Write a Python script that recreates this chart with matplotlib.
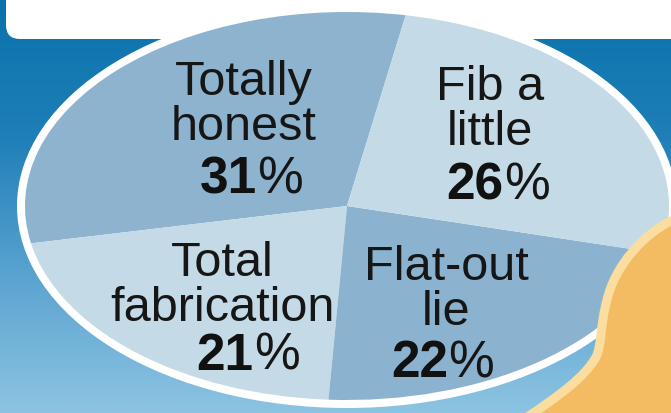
import numpy as np
import matplotlib.pyplot as plt
from matplotlib.patches import Ellipse, FancyBboxPatch, PathPatch
from matplotlib.path import Path
from matplotlib.colors import LinearSegmentedColormap

# survey answers, in pie order (counter-clockwise from the top)
answers = [["Totally", "honest"], ["Total", "fabrication"], ["Flat-out", "lie"], ["Fib a", "little"]]
shares = [31, 21, 22, 26]
slice_colors = ["#8db3cf", "#c4dae6", "#8bb2ce", "#c4dae6"]

# label placement in pixels: (centre x, first baseline), (percent centre x, baseline)
label_pos = [(244, 95), (222, 276), (446, 280), (490, 100)]
pct_pos = [(251, 193), (248, 370), (443, 377), (498, 200)]

W, H = 671, 413
plt.rcParams['font.family'] = ['Liberation Sans', 'DejaVu Sans']
fig = plt.figure(figsize=(W / 100, H / 100), dpi=100)

# background: blue gradient, white header box, white rim of the ellipse
bg = fig.add_axes([0, 0, 1, 1])
bg.set_xlim(0, W)
bg.set_ylim(H, 0)
bg.axis('off')
grad = np.linspace(0, 1, 256)[:, None]
cmap = LinearSegmentedColormap.from_list('bg', ['#0a72ab', '#1f7fb8', '#5aa3d0', '#8cc4e2'])
bg.imshow(grad, cmap=cmap, extent=[0, W, H, 0], aspect='auto')
bg.add_patch(FancyBboxPatch((6, -40), 720, 79, boxstyle='round,pad=0,rounding_size=14',
                            fc='white', ec='none'))
bg.add_patch(Ellipse((347, 206), 660, 404, fc='white', ec='none'))

# the pie itself, squashed into the ellipse
pa = fig.add_axes([25 / W, 13 / H, 644 / W, 388 / H])
pa.pie(shares, colors=slice_colors, startangle=79.5, counterclock=True,
       wedgeprops=dict(linewidth=0))
pa.set_aspect('auto')
pa.set_xlim(-1, 1)
pa.set_ylim(-1, 1)
pa.axis('off')

# overlay: orange blob and the labels
ax = fig.add_axes([0, 0, 1, 1])
ax.set_xlim(0, W)
ax.set_ylim(H, 0)
ax.axis('off')
ax.patch.set_alpha(0)

verts = [(700, 210), (671, 221),
         (645, 233), (615, 265), (607, 300),
         (600, 325), (602, 345), (596, 357),
         (585, 377), (560, 395), (526, 418),
         (700, 440), (700, 210)]
codes = [Path.MOVETO, Path.LINETO,
         Path.CURVE4, Path.CURVE4, Path.CURVE4,
         Path.CURVE4, Path.CURVE4, Path.CURVE4,
         Path.CURVE4, Path.CURVE4, Path.CURVE4,
         Path.LINETO, Path.CLOSEPOLY]
ax.add_patch(PathPatch(Path(verts, codes), fc='#f3bb62', ec='#fadd9f', lw=6.5))

txt = dict(fontsize=35, color='#161616', ha='center', va='baseline')
for lines, (cx, by) in zip(answers, label_pos):
    for i, line in enumerate(lines):
        ax.text(cx, by + 45 * i, line, **txt)

# bold number followed by a regular-weight percent sign, centred as a group
r = fig.canvas.get_renderer()
gap = 0
for pct, (cx, by) in zip(shares, pct_pos):
    t1 = ax.text(0, by, str(pct), fontsize=37, fontweight='bold', color='#111111',
                 ha='left', va='baseline')
    t2 = ax.text(0, by, '%', fontsize=37, color='#161616', ha='left', va='baseline')
    w1 = t1.get_window_extent(r).width
    w2 = t2.get_window_extent(r).width
    x0 = cx - (w1 + gap + w2) / 2
    t1.set_x(x0)
    t2.set_x(x0 + w1 + gap)

fig.savefig('out.png', dpi=100)
